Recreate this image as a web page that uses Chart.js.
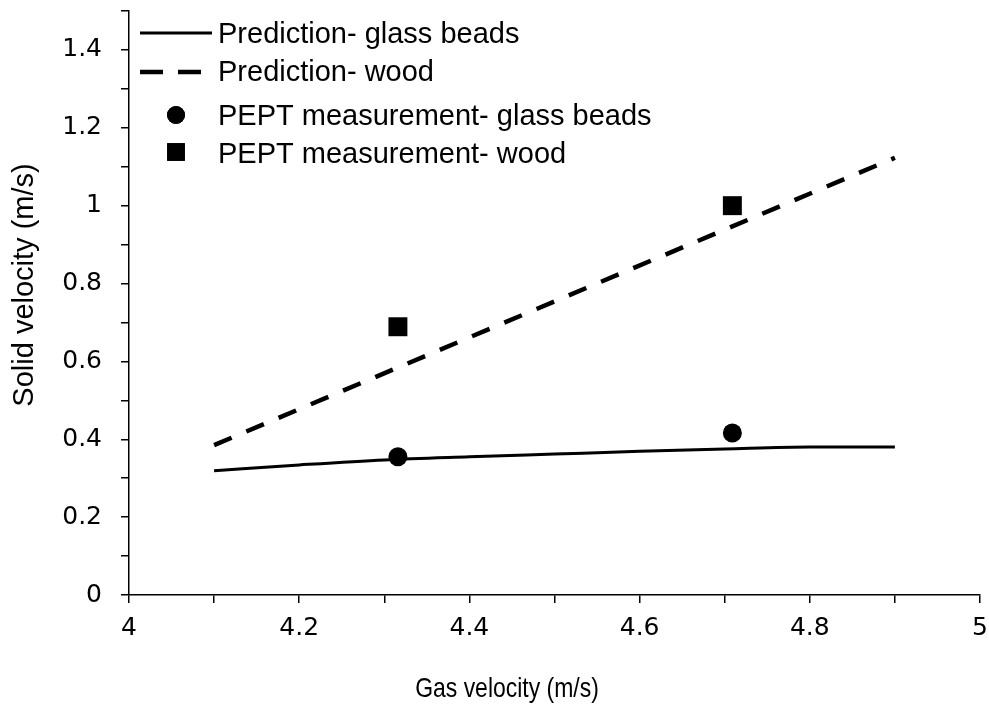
<!DOCTYPE html>
<html>
<head>
<meta charset="utf-8">
<script src="https://cdn.jsdelivr.net/npm/chart.js@4/dist/chart.umd.min.js"></script>
<style>
  html, body { margin: 0; padding: 0; background: #fff; }
  #wrap { width: 989px; height: 706px; position: relative; }
</style>
</head>
<body>
<div id="wrap"><canvas id="chart"></canvas></div>
<script>
// --- data ---
const predGlassX = [4.1, 4.2, 4.3, 4.4, 4.5, 4.6, 4.7, 4.8, 4.9];
const predGlassY = [0.319, 0.334, 0.347, 0.355, 0.362, 0.369, 0.375, 0.38, 0.38];
const predWoodX = [4.1, 4.9];
const predWoodY = [0.385, 1.123];
const measGlassX = [4.316, 4.709];
const measGlassY = [0.355, 0.416];
const measWoodX = [4.316, 4.709];
const measWoodY = [0.689, 1.0];
const seriesNames = [
    'Prediction- glass beads',
    'Prediction- wood',
    'PEPT measurement- glass beads',
    'PEPT measurement- wood'
];
const xTitle = 'Gas velocity (m/s)';
const yTitle = 'Solid velocity (m/s)';

const SANS = 'Liberation Sans, Arial, sans-serif';
const TICKFONT = 'DejaVu Sans, sans-serif';

function pts(xs, ys) {
    return xs.map((x, i) => ({ x: x, y: ys[i] }));
}

// legend inside the plot (top left) and the two axis titles
const extras = {
    id: 'extras',
    afterDraw(chart) {
        const ctx = chart.ctx;
        const left = chart.chartArea.left;
        const marks = [33, 72, 115, 152];
        const texts = [35, 73, 117, 155];
        ctx.save();
        ctx.font = '29px ' + SANS;
        ctx.textBaseline = 'middle';
        ctx.strokeStyle = '#000';
        ctx.fillStyle = '#000';
        chart.data.datasets.forEach((ds, i) => {
            const y = marks[i];
            if (ds.showLine) {
                ctx.lineWidth = ds.borderWidth;
                ctx.setLineDash(ds.borderDash ? [23, 15] : []);
                ctx.beginPath();
                ctx.moveTo(left + 11, y);
                ctx.lineTo(left + 83, y);
                ctx.stroke();
                ctx.setLineDash([]);
            } else {
                const r = ds.pointStyle === 'rect' ? 12.5 : 9;
                Chart.helpers.drawPoint(ctx, {
                    pointStyle: ds.pointStyle,
                    radius: r,
                    borderWidth: 0
                }, left + 47, y);
                ctx.fill();
            }
            ctx.fillText(seriesNames[i], left + 89, texts[i]);
        });

        // x title (slightly condensed as in the figure)
        ctx.font = '28px ' + SANS;
        ctx.textAlign = 'center';
        ctx.save();
        ctx.translate(507, 689);
        ctx.scale(0.82, 1);
        ctx.fillText(xTitle, 0, 0);
        ctx.restore();

        // y title
        ctx.font = '29px ' + SANS;
        ctx.save();
        ctx.translate(25, 285);
        ctx.rotate(-Math.PI / 2);
        ctx.fillText(yTitle, 0, 0);
        ctx.restore();
        ctx.restore();
    }
};

function tickLabel(value) {
    const tenths = Math.round(value * 10);
    if (tenths % 2 !== 0) return '';
    return String(Number((tenths / 10).toFixed(1)));
}

new Chart(document.getElementById('chart'), {
    type: 'scatter',
    data: {
        datasets: [
            {
                label: seriesNames[0],
                data: pts(predGlassX, predGlassY),
                showLine: true,
                borderColor: '#000',
                borderWidth: 3,
                pointRadius: 0,
                cubicInterpolationMode: 'monotone'
            },
            {
                label: seriesNames[1],
                data: pts(predWoodX, predWoodY),
                showLine: true,
                borderColor: '#000',
                borderWidth: 4.5,
                borderDash: [19, 16],
                pointRadius: 0
            },
            {
                label: seriesNames[2],
                data: pts(measGlassX, measGlassY),
                pointStyle: 'circle',
                pointRadius: 9.5,
                backgroundColor: '#000',
                borderWidth: 0
            },
            {
                label: seriesNames[3],
                data: pts(measWoodX, measWoodY),
                pointStyle: 'rect',
                pointRadius: 13.4,
                backgroundColor: '#000',
                borderWidth: 0
            }
        ]
    },
    options: {
        responsive: true,
        maintainAspectRatio: false,
        animation: false,
        layout: { autoPadding: false, padding: { left: 0, right: 9, top: 11, bottom: 0 } },
        plugins: {
            legend: { display: false },
            tooltip: { enabled: false }
        },
        scales: {
            x: {
                type: 'linear',
                min: 4,
                max: 5,
                afterFit: (scale) => {
                    scale.height = 111;
                    scale.paddingLeft = 0;
                    scale.paddingRight = 0;
                },
                border: { color: '#000', width: 1.5 },
                grid: { drawOnChartArea: false, color: '#000', tickLength: 8, lineWidth: 1.5 },
                ticks: {
                    stepSize: 0.1,
                    color: '#000',
                    font: { family: TICKFONT, size: 25 },
                    padding: 10,
                    maxRotation: 0,
                    autoSkip: false,
                    callback: tickLabel
                }
            },
            y: {
                type: 'linear',
                min: 0,
                max: 1.5,
                afterFit: (scale) => {
                    scale.width = 129;
                    scale.paddingTop = 0;
                    scale.paddingBottom = 0;
                },
                border: { color: '#000', width: 1.5 },
                grid: { drawOnChartArea: false, color: '#000', tickLength: 8, lineWidth: 1.5 },
                ticks: {
                    stepSize: 0.1,
                    color: '#000',
                    font: { family: TICKFONT, size: 25 },
                    padding: 19,
                    autoSkip: false,
                    callback: tickLabel
                }
            }
        }
    },
    plugins: [extras]
});
</script>
</body>
</html>
